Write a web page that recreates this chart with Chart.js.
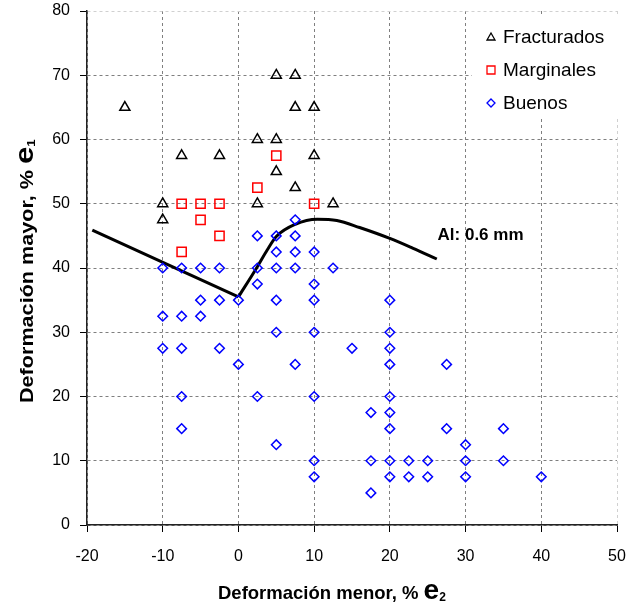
<!DOCTYPE html>
<html>
<head>
<meta charset="utf-8">
<script src="https://cdn.jsdelivr.net/npm/chart.js@4"></script>
<style>html,body{margin:0;padding:0;background:#fff}</style>
</head>
<body>
<canvas id="grafico" width="639" height="607"></canvas>
<script>
// puntos: [e2, e1]
const fracturados = [[-15,65],[5,70],[7.5,70],[7.5,65],[10,65],[2.5,60],[5,60],[-7.5,57.5],[-2.5,57.5],
  [10,57.5],[5,55],[7.5,52.5],[-10,50],[-10,47.5],[2.5,50],[12.5,50]];
const marginales = [[5,57.5],[2.5,52.5],[-7.5,50],[-5,50],[-2.5,50],[10,50],[-5,47.5],[-2.5,45],[-7.5,42.5]];
const buenos = [[7.5,47.5],[2.5,45],[5,45],[7.5,45],[5,42.5],[7.5,42.5],[10,42.5],
  [-10,40],[-7.5,40],[-5,40],[-2.5,40],[2.5,40],[5,40],[7.5,40],[12.5,40],
  [2.5,37.5],[10,37.5],[-5,35],[-2.5,35],[0,35],[5,35],[10,35],[20,35],
  [-10,32.5],[-7.5,32.5],[-5,32.5],[5,30],[10,30],[20,30],
  [-10,27.5],[-7.5,27.5],[-2.5,27.5],[15,27.5],[20,27.5],
  [0,25],[7.5,25],[20,25],[27.5,25],[-7.5,20],[2.5,20],[10,20],[20,20],
  [17.5,17.5],[20,17.5],[-7.5,15],[20,15],[27.5,15],[35,15],[5,12.5],[30,12.5],
  [10,10],[17.5,10],[20,10],[22.5,10],[25,10],[30,10],[35,10],
  [10,7.5],[20,7.5],[22.5,7.5],[25,7.5],[30,7.5],[40,7.5],[17.5,5]];
// curva limite (Al: 0.6 mm)
const curvaIzq = [[-19.3,45.9],[0,35.5]];
const curvaDer = [[0,35.5],[2.5,40.2],[3.8,42.8],[5,44.9],[7.5,46.8],[10.4,47.6],[13,47.4],
  [16,46.3],[20,44.6],[23,43.1],[26.2,41.4]];
const etiquetaCurva = 'Al: 0.6 mm';
const nombres = ['Fracturados', 'Marginales', 'Buenos'];

const pts = arr => arr.map(([x, y]) => ({ x, y }));

// titulos, anotacion y leyenda dibujados a mano
const extras = {
  id: 'extras',
  afterDraw(chart) {
    const ctx = chart.ctx;
    const sx = chart.scales.x, sy = chart.scales.y;
    ctx.save();
    ctx.fillStyle = '#000';

    // anotacion
    ctx.font = 'bold 17px Arial';
    ctx.textBaseline = 'alphabetic';
    ctx.fillText(etiquetaCurva, sx.getPixelForValue(26.3), sy.getPixelForValue(44.3));

    // titulo eje x
    drawParts(ctx, 218, 599, [
      ['Deformación menor, % ', 'bold 18.5px Arial', 0],
      ['e', 'bold 28px Arial', 0],
      ['2', 'bold 12px Arial', 2]
    ]);

    // titulo eje y (algo estirado, como en el original)
    ctx.save();
    ctx.translate(33, 403);
    ctx.rotate(-Math.PI / 2);
    ctx.scale(1.2, 1);
    drawParts(ctx, 0, 0, [
      ['Deformación mayor, % ', 'bold 18px Arial', 0],
      ['e', 'bold 26px Arial', 0],
      ['1', 'bold 11px Arial', 2]
    ]);
    ctx.restore();

    // leyenda
    ctx.fillStyle = '#fff';
    ctx.fillRect(472, 15, 150, 102);
    const filas = [37, 70, 103];
    ctx.lineWidth = 1.3;
    filas.forEach((y, i) => {
      const x = 491;
      ctx.beginPath();
      if (i === 0) {
        ctx.strokeStyle = '#000';
        ctx.moveTo(x, y - 4); ctx.lineTo(x + 4, y + 3); ctx.lineTo(x - 4, y + 3); ctx.closePath();
      } else if (i === 1) {
        ctx.strokeStyle = '#ff0000';
        ctx.rect(x - 4, y - 4, 8, 8);
      } else {
        ctx.strokeStyle = '#0000ff';
        ctx.moveTo(x, y - 4); ctx.lineTo(x + 4, y); ctx.lineTo(x, y + 4); ctx.lineTo(x - 4, y); ctx.closePath();
      }
      ctx.stroke();
      ctx.fillStyle = '#000';
      ctx.font = '19px Arial';
      ctx.textBaseline = 'middle';
      ctx.fillText(nombres[i], 503, y + 1);
    });
    ctx.restore();
  }
};

function drawParts(ctx, x, y, parts) {
  ctx.textBaseline = 'alphabetic';
  parts.forEach(([txt, font, dy]) => {
    ctx.font = font;
    ctx.fillText(txt, x, y + dy);
    x += ctx.measureText(txt).width;
  });
}

const gridColor = (tope) => (c) => (c.tick && c.tick.value === tope ? '#d0d0d0' : '#7f7f7f');

new Chart(document.getElementById('grafico'), {
  type: 'scatter',
  data: {
    datasets: [
      { label: nombres[0], data: pts(fracturados), pointStyle: 'triangle', pointRadius: 5.8,
        borderColor: '#000', backgroundColor: 'rgba(0,0,0,0)', pointBorderWidth: 1.5 },
      { label: nombres[1], data: pts(marginales), pointStyle: 'rect', pointRadius: 6.5,
        borderColor: '#ff0000', backgroundColor: 'rgba(0,0,0,0)', pointBorderWidth: 1.5 },
      { label: nombres[2], data: pts(buenos), pointStyle: 'rectRot', pointRadius: 4.8,
        borderColor: '#0000ff', backgroundColor: 'rgba(0,0,0,0)', pointBorderWidth: 1.5 },
      { label: 'curvaIzq', data: pts(curvaIzq), showLine: true, pointRadius: 0,
        borderColor: '#000', borderWidth: 3 },
      { label: 'curvaDer', data: pts(curvaDer), showLine: true, pointRadius: 0,
        borderColor: '#000', borderWidth: 3, cubicInterpolationMode: 'monotone' }
    ]
  },
  options: {
    responsive: false,
    animation: false,
    devicePixelRatio: 1,
    layout: { padding: { left: 0, right: 22, top: 11, bottom: 0 } },
    plugins: { legend: { display: false }, tooltip: { enabled: false } },
    scales: {
      x: {
        type: 'linear', min: -20, max: 50,
        ticks: { stepSize: 10, color: '#000', font: { family: 'Arial', size: 16 }, padding: 15 },
        grid: { color: gridColor(50), tickColor: '#000', tickLength: 7, tickBorderDash: [] },
        border: { color: '#222', width: 1.5, dash: [3, 3] },
        afterFit: (s) => { s.height = 607 - 525; s.paddingLeft = 0; s.paddingRight = 0; }
      },
      y: {
        type: 'linear', min: 0, max: 80,
        ticks: { stepSize: 10, color: '#000', font: { family: 'Arial', size: 16 }, padding: 10 },
        grid: { color: gridColor(80), tickColor: '#000', tickLength: 7, tickBorderDash: [] },
        border: { color: '#222', width: 1.5, dash: [3, 3] },
        afterFit: (s) => { s.width = 87; s.paddingTop = 0; s.paddingBottom = 0; }
      }
    }
  },
  plugins: [extras]
});
</script>
</body>
</html>
